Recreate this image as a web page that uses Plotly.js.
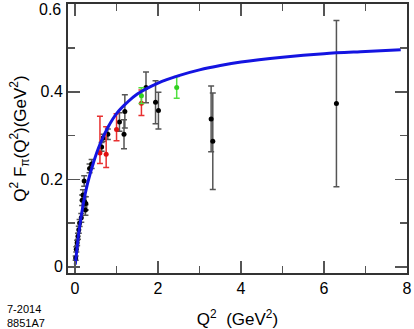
<!DOCTYPE html>
<html>
<head>
<meta charset="utf-8">
<script src="https://cdn.plot.ly/plotly-3.0.1.min.js"></script>
<style>
  html, body { margin: 0; padding: 0; background: #fff; }
  #plot { width: 414px; height: 329px; }
</style>
</head>
<body>
<div id="plot"></div>
<script>
// --- data ---
// model curve (blue)
const curveQ2 = [0.005, 0.05, 0.1, 0.2, 0.3, 0.45, 0.6, 0.8, 1.0, 1.25, 1.5, 2.0, 2.5, 3.0, 3.5, 4.0, 5.0, 6.0, 7.0, 7.85];
const curveVal = [0.005, 0.045, 0.085, 0.145, 0.19, 0.24, 0.28, 0.32, 0.35, 0.375, 0.395, 0.42, 0.437, 0.45, 0.46, 0.468, 0.479, 0.487, 0.492, 0.496];

// black points
const blackQ2 = [0.015, 0.03, 0.05, 0.07, 0.09, 0.11, 0.15, 0.17, 0.19, 0.22, 0.23, 0.25, 0.26, 0.35, 0.40, 0.64, 0.68, 0.79, 1.07, 1.18, 1.2, 1.71, 1.94, 2.01, 3.28, 3.32, 6.3];
const blackVal = [0.02, 0.04, 0.055, 0.07, 0.085, 0.10, 0.112, 0.152, 0.164, 0.196, 0.149, 0.13, 0.145, 0.225, 0.235, 0.274, 0.295, 0.303, 0.331, 0.303, 0.355, 0.41, 0.376, 0.357, 0.338, 0.287, 0.373];
const blackErr = [0.005, 0.006, 0.006, 0.007, 0.008, 0.008, 0.01, 0.012, 0.012, 0.012, 0.012, 0.012, 0.015, 0.01, 0.01, 0.01, 0.008, 0.012, 0.021, 0.033, 0.038, 0.035, 0.049, 0.042, 0.075, 0.11, 0.19];

// red points (asymmetric errors)
const redQ2 = [0.6, 0.75, 1.0, 1.6];
const redVal = [0.26, 0.257, 0.314, 0.374];
const redErrPlus = [0.084, 0.063, 0.036, 0.03];
const redErrMinus = [0.024, 0.03, 0.026, 0.028];

// green points
const greenQ2 = [1.6, 2.45];
const greenVal = [0.391, 0.41];
const greenErr = [0.018, 0.025];

// y tick labels (the top one is placed by hand so it is not clipped)
const yTickVals = [0, 0.2, 0.4, 0.6];
const yTickText = ['0', '0.2', '0.4', '0.6'];

const font = 'Liberation Sans, Arial, Helvetica, sans-serif';

function pointTrace(x, y, plus, minus, markerColor, barColor) {
    return {
        x: x, y: y, type: 'scatter', mode: 'markers',
        marker: { color: markerColor, size: 5 },
        error_y: {
            type: 'data', array: plus, arrayminus: minus, symmetric: minus == null,
            color: barColor, thickness: 1.5, width: 3
        },
        hoverinfo: 'skip'
    };
}

const traces = [
    pointTrace(blackQ2, blackVal, blackErr, null, '#000', '#555'),
    pointTrace(redQ2, redVal, redErrPlus, redErrMinus, '#e01010', '#e83030'),
    pointTrace(greenQ2, greenVal, greenErr, null, '#30d020', '#50e040'),
    {
        x: curveQ2, y: curveVal, type: 'scatter', mode: 'lines',
        line: { color: 'rgb(20,20,225)', width: 3, shape: 'spline', smoothing: 1 },
        hoverinfo: 'skip'
    }
];

const axisCommon = {
    showline: true, linecolor: '#333', linewidth: 2, mirror: 'ticks',
    ticks: 'inside', ticklen: 12, tickwidth: 1.5, tickcolor: '#555',
    showgrid: false, zeroline: false,
    tickfont: { family: font, size: 16, color: '#000' }
};

const plotH = 329 - 4 - 56;

const layout = {
    width: 414, height: 329,
    margin: { l: 68, r: 7, t: 4, b: 56 },
    paper_bgcolor: '#fff', plot_bgcolor: '#fff',
    showlegend: false,
    xaxis: Object.assign({}, axisCommon, {
        range: [-0.17, 8.001], tickvals: [0, 2, 4, 6, 8],
        ticklabeloverflow: 'allow',
        minor: { dtick: 1, tick0: 0, ticks: 'inside', ticklen: 7, tickwidth: 1.5, tickcolor: '#555' },
        title: { text: 'Q<sup>2</sup>  (GeV<sup>2</sup>)', font: { family: font, size: 17, color: '#000' }, standoff: 20 }
    }),
    yaxis: Object.assign({}, axisCommon, {
        range: [-0.014, 0.6005], tickvals: yTickVals,
        ticktext: yTickText.map((t, i) => i === yTickText.length - 1 ? '' : t),
        minor: { dtick: 0.1, tick0: 0, ticks: 'inside', ticklen: 7, tickwidth: 1.5, tickcolor: '#555' },
        title: { text: 'Q<sup>2</sup> F<sub>π</sub>(Q<sup>2</sup>)(GeV<sup>2</sup>)', font: { family: font, size: 17, color: '#000' }, standoff: 10 }
    }),
    annotations: [
        { text: yTickText[yTickText.length - 1], xref: 'paper', yref: 'paper', x: -5 / 339, y: 1 - 6 / plotH,
          xanchor: 'right', yanchor: 'middle', showarrow: false, font: { family: font, size: 16, color: '#000' } },
        { text: '7-2014<br>8851A7', xref: 'paper', yref: 'paper', x: -63 / 339, y: -0.103, xanchor: 'left', yanchor: 'top', align: 'left', showarrow: false,
          font: { family: font, size: 11, color: '#000' } }
    ]
};

Plotly.newPlot('plot', traces, layout, { displayModeBar: false, staticPlot: true });
</script>
</body>
</html>
